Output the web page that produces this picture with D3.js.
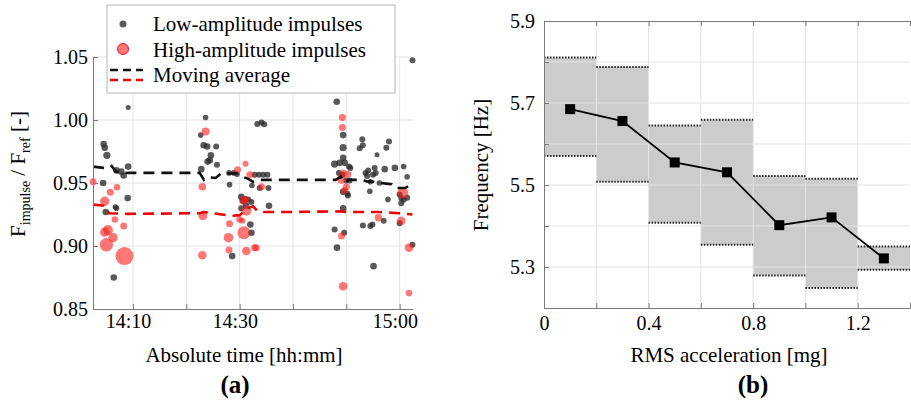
<!DOCTYPE html>
<html>
<head>
<meta charset="utf-8">
<script src="https://cdn.jsdelivr.net/npm/d3@7"></script>
<style>
body { margin: 0; background: #fff; }
svg text { font-family: "Liberation Serif", "Times New Roman", "DejaVu Serif", serif; fill: #000; }
</style>
</head>
<body>
<div id="chart"></div>
<script>
// ---- panel (a): time in minutes after 14:00, ratio F_impulse / F_ref, marker radius
var lowTime  = [4.5, 4.7, 5.1, 4.4, 4.9, 6.7, 6.9, 6.9, 7.8, 8.25, 9.1, 9.0, 6.4, 9.1,
  22.7, 23.6, 23.25, 23.9, 25.6, 24.6, 24.4, 24.0, 25.75, 22.8, 28.1, 28.0, 28.9, 29.5, 28.6,
  30.3, 30.6, 31.0, 31.6, 32.2, 31.2, 30.3, 32.0, 32.2, 32.8, 33.6, 34.4, 35.2, 33.75, 35.4, 35.5,
  33.3, 34.1, 34.6, 32.3,
  48.2, 49.4, 49.4, 49.4, 47.8, 48.75, 49.7, 50.5, 50.75, 48.6, 49.25, 49.4, 50.3, 49.4, 49.6,
  47.8, 48.25, 50.0, 50.6, 50.2,
  53.0, 53.1, 52.5, 58.0, 57.5, 55.75, 53.6, 54.1, 53.9, 55.3, 55.5, 55.0, 57.2, 59.1, 60.75,
  61.4, 54.4, 57.8, 53.1, 54.9, 54.5, 57.0, 55.1, 60.0, 60.3, 60.75, 60.3, 61.4, 60.0, 62.4,
  62.4, 54.5, 56.2];
var lowRatio = [0.981, 0.978, 0.972, 0.950, 0.927, 0.931, 0.930, 0.960, 0.959, 0.956, 0.963, 0.938, 0.875, 1.010,
  0.988, 1.002, 0.980, 0.979, 0.979, 0.972, 0.968, 0.967, 0.9645, 0.961, 0.9487, 0.958, 0.958, 0.957, 0.892,
  0.939, 0.936, 0.937, 0.937, 0.935, 0.932, 0.930, 0.917, 0.9105, 0.9566, 0.9566, 0.9566, 0.9566, 0.946, 0.946, 0.932,
  0.9968, 0.998, 0.9966, 0.948,
  1.0145, 0.988, 0.978, 0.970, 0.965, 0.966, 0.966, 0.963, 0.962, 0.958, 0.9565, 0.943, 0.940, 0.930, 0.9105,
  0.913, 0.8987, 0.952, 0.952, 0.9415,
  0.9847, 0.980, 0.9776, 0.983, 0.978, 0.9724, 0.958, 0.960, 0.9555, 0.962, 0.958, 0.9566, 0.961, 0.962, 0.963,
  0.955, 0.9434, 0.937, 0.9163, 0.917, 0.9158, 0.920, 0.884, 0.9408, 0.938, 0.9368, 0.934, 0.9382, 0.918, 0.901,
  1.0474, 0.951, 0.950];
var lowSize  = [3, 3, 3.3, 3, 3, 2.5, 2.5, 3, 3, 3, 3, 3, 3, 2.2,
  2.5, 2.5, 3, 3, 2.7, 3, 3, 3, 2.7, 3, 2.5, 2.5, 2.5, 2.5, 3,
  3, 3, 3, 2.7, 2.7, 3, 2.7, 3, 3, 2.7, 2.7, 2.7, 2.7, 2.7, 2.7, 3,
  2.7, 2.7, 2.7, 2.5,
  3, 3, 3.3, 3, 3.3, 3, 3, 2.7, 2.7, 2.7, 2.7, 3, 2.7, 3, 2.7,
  2.7, 3, 2.7, 2.7, 2.7,
  2.7, 2.7, 2.7, 2.7, 2.7, 2.2, 2.7, 2.7, 2.7, 2.7, 2.7, 2.7, 3, 3, 2.5,
  2.5, 2.5, 2.5, 2.7, 2.7, 2.7, 2.7, 3, 2.7, 2.7, 2.7, 2.7, 2.7, 2.7, 2.7,
  2.7, 2.5, 2.5];

var highTime  = [2.5, 5.75, 7.0, 4.7, 6.6, 8.25, 5.3, 4.7, 6.25, 5.0, 8.4,
  23.6, 23.0, 23.1, 23.0, 28.1, 27.9, 28.0, 29.6, 31.1, 30.0, 30.8, 31.1, 31.25, 30.8, 31.25,
  32.8, 33.1, 34.1, 31.9, 30.5,
  49.25, 49.25, 49.1, 49.4, 50.3, 50.0, 49.7, 49.1, 49.4,
  56.0, 60.6, 60.3, 61.75, 61.75];
var highRatio = [0.951, 0.9426, 0.9466, 0.9355, 0.921, 0.9158, 0.9126, 0.911, 0.9066, 0.901, 0.892,
  0.9908, 0.947, 0.924, 0.8926, 0.9176, 0.9066, 0.8968, 0.9605, 0.9653, 0.921, 0.936, 0.937, 0.928, 0.9105, 0.896,
  0.8987, 0.8987, 0.947, 0.9566, 0.920,
  1.002, 0.994, 0.953, 0.958, 0.957, 0.947, 0.944, 0.908, 0.868,
  0.9224, 0.942, 0.920, 0.8987, 0.8626];
var highSize  = [3.5, 3.5, 3.3, 4.7, 3.3, 3.5, 5, 4.7, 4.7, 6.7, 9,
  4, 3.8, 4.5, 4.3, 3.5, 4.8, 3.5, 3.5, 3, 3.3, 4.3, 3.5, 5, 6.5, 4.3,
  3.5, 3.5, 3.5, 3.5, 3,
  3.5, 3.5, 4.5, 3.5, 3.5, 3.5, 3.5, 3.5, 4.3,
  3.7, 5.5, 4.3, 4.3, 3.3];

var avgLowTime  = [2.5, 4.5, 5.5, 6.0, 6.8, 9, 22.5, 23.3, 24, 25.5, 26.5, 29.5, 30.5, 31.5, 32.5, 33.5,
  48, 49, 49.5, 50.5, 53, 54, 54.5, 55.5, 57.5, 58.5, 59.2, 61, 61.7, 62.3];
var avgLowRatio = [0.963, 0.962, 0.962, 0.9635, 0.959, 0.958, 0.958, 0.9525, 0.9545, 0.954, 0.9575, 0.9575, 0.955, 0.9535, 0.951, 0.9525,
  0.9525, 0.955, 0.9505, 0.9525, 0.9525, 0.951, 0.9515, 0.9505, 0.9495, 0.949, 0.946, 0.946, 0.9475, 0.949];
var avgHighTime  = [2.5, 4.5, 5.5, 9, 22.5, 23.2, 25, 28.5, 30, 31.5, 32.5, 33.5, 40, 49, 50, 56, 60, 62.4];
var avgHighRatio = [0.933, 0.932, 0.926, 0.9255, 0.926, 0.927, 0.926, 0.924, 0.9245, 0.93, 0.9315, 0.927, 0.927, 0.9275, 0.927, 0.927, 0.926, 0.925];

var timeTicks  = [10, 20, 30, 40, 50, 60];
var timeLabels = ["14:10", "", "14:30", "", "", "15:00"];
var ratioTicks = [0.85, 0.90, 0.95, 1.00, 1.05];

// ---- panel (b): frequency spread per RMS acceleration bin
var binStart  = [0, 0.2, 0.4, 0.6, 0.8, 1.0, 1.2];
var binEnd    = [0.2, 0.4, 0.6, 0.8, 1.0, 1.2, 1.4];
var binCenter = [0.1, 0.3, 0.5, 0.7, 0.9, 1.1, 1.3];
var freqUpper = [5.811, 5.788, 5.645, 5.659, 5.522, 5.515, 5.350];
var freqLower = [5.571, 5.508, 5.408, 5.354, 5.279, 5.249, 5.293];
var freqMean  = [5.685, 5.656, 5.555, 5.531, 5.402, 5.421, 5.321];

var accTicks   = [0, 0.2, 0.4, 0.6, 0.8, 1.0, 1.2, 1.4];
var accLabels  = ["0", "", "0.4", "", "0.8", "", "1.2", ""];
var freqTicks  = [5.2, 5.3, 5.4, 5.5, 5.6, 5.7, 5.8, 5.9];
var freqLabels = ["", "5.3", "", "5.5", "", "5.7", "", "5.9"];

var W = 911, H = 406;
var serif = "'Liberation Serif', 'Times New Roman', 'DejaVu Serif', serif";
var axisColor = "#7a7a7a";
var gridColor = "#e4e4e4";

var svg = d3.select("#chart")
  .append("svg")
  .attr("width", W)
  .attr("height", H)
  .attr("font-family", serif)
  .style("font-family", serif);

svg.append("rect")
  .attr("width", W)
  .attr("height", H)
  .attr("fill", "#fff");

function toDate(m) {
  return new Date(2000, 0, 1, 14, 0, 0, m * 60000);
}

function styleAxis(g) {
  g.attr("font-family", serif);
  g.select(".domain").attr("stroke", axisColor);
  g.selectAll(".tick line").attr("stroke", axisColor);
  g.selectAll(".tick text")
    .attr("font-size", 20)
    .attr("fill", "#000")
    .attr("font-family", serif)
    .style("font-family", serif);
}

// =================== panel (a) ===================
var a = {left: 93, right: 413, top: 57, bottom: 309};

var xa = d3.scaleTime()
  .domain([toDate(2.5), toDate(62.5)])
  .range([a.left, a.right]);
var ya = d3.scaleLinear()
  .domain([0.85, 1.05])
  .range([a.bottom, a.top]);

var pa = svg.append("g");

// grid
pa.append("g").selectAll("line")
  .data(timeTicks)
  .enter()
  .append("line")
  .attr("x1", d => xa(toDate(d))).attr("x2", d => xa(toDate(d)))
  .attr("y1", a.top).attr("y2", a.bottom)
  .attr("stroke", gridColor);
pa.append("g").selectAll("line")
  .data(ratioTicks.slice(1))
  .enter()
  .append("line")
  .attr("x1", a.left).attr("x2", a.right)
  .attr("y1", d => ya(d)).attr("y2", d => ya(d))
  .attr("stroke", gridColor);

// scatter
pa.append("g").selectAll("circle")
  .data(lowTime.map((t, i) => [t, lowRatio[i], lowSize[i]]))
  .enter()
  .append("circle")
  .attr("cx", d => xa(toDate(d[0])))
  .attr("cy", d => ya(d[1]))
  .attr("r", d => d[2] + 0.3)
  .attr("fill", "#2a2a2a")
  .attr("fill-opacity", 0.78);

pa.append("g").selectAll("circle")
  .data(highTime.map((t, i) => [t, highRatio[i], highSize[i]]))
  .enter()
  .append("circle")
  .attr("cx", d => xa(toDate(d[0])))
  .attr("cy", d => ya(d[1]))
  .attr("r", d => d[2])
  .attr("fill", "#ff1a1a")
  .attr("fill-opacity", 0.6);

// moving averages
var avgLine = d3.line()
  .x(d => xa(toDate(d[0])))
  .y(d => ya(d[1]));

pa.append("path")
  .attr("d", avgLine(avgLowTime.map((t, i) => [t, avgLowRatio[i]])))
  .attr("fill", "none")
  .attr("stroke", "#111")
  .attr("stroke-width", 2.6)
  .attr("stroke-dasharray", "11,7");
pa.append("path")
  .attr("d", avgLine(avgHighTime.map((t, i) => [t, avgHighRatio[i]])))
  .attr("fill", "none")
  .attr("stroke", "#ee0000")
  .attr("stroke-width", 2.6)
  .attr("stroke-dasharray", "11,7");

// axes
pa.append("g")
  .attr("transform", "translate(" + a.left + ",0)")
  .call(d3.axisLeft(ya).tickValues(ratioTicks).tickFormat(d3.format(".2f"))
    .tickSizeInner(-5).tickSizeOuter(0).tickPadding(5))
  .call(styleAxis);

pa.append("g")
  .attr("transform", "translate(0," + a.bottom + ")")
  .call(d3.axisBottom(xa).tickValues(timeTicks.map(toDate))
    .tickFormat((d, i) => timeLabels[i])
    .tickSizeInner(-5).tickSizeOuter(0).tickPadding(5))
  .call(styleAxis)
  .call(g => g.selectAll(".tick text").attr("dx", "-0.25em"));

// axis titles
var ylab = svg.append("text")
  .attr("transform", "translate(25,174) rotate(-90)")
  .attr("text-anchor", "middle")
  .attr("font-size", 21);
ylab.append("tspan").text("F");
ylab.append("tspan").attr("font-size", 14).attr("dy", 5).text("impulse");
ylab.append("tspan").attr("dy", -5).text(" / F");
ylab.append("tspan").attr("font-size", 14).attr("dy", 5).text("ref");
ylab.append("tspan").attr("dy", -5).text("  [-]");

svg.append("text")
  .attr("x", 244).attr("y", 362)
  .attr("text-anchor", "middle")
  .attr("font-size", 21)
  .text("Absolute time [hh:mm]");

svg.append("text")
  .attr("x", 235).attr("y", 393)
  .attr("text-anchor", "middle")
  .attr("font-size", 25)
  .attr("font-weight", "bold")
  .text("(a)");

// legend
var leg = svg.append("g");
leg.append("rect")
  .attr("x", 107).attr("y", 5)
  .attr("width", 288).attr("height", 88)
  .attr("fill", "#fff")
  .attr("stroke", "#b5b5b5");
leg.append("circle")
  .attr("cx", 123).attr("cy", 24).attr("r", 3.5)
  .attr("fill", "#2a2a2a").attr("fill-opacity", 0.78);
leg.append("circle")
  .attr("cx", 123).attr("cy", 49).attr("r", 5.5)
  .attr("fill", "#ff1a1a").attr("fill-opacity", 0.6)
  .attr("stroke", "#e02020");
leg.append("line")
  .attr("x1", 110).attr("x2", 143).attr("y1", 70).attr("y2", 70)
  .attr("stroke", "#111").attr("stroke-width", 2.6).attr("stroke-dasharray", "8,5");
leg.append("line")
  .attr("x1", 110).attr("x2", 143).attr("y1", 80).attr("y2", 80)
  .attr("stroke", "#ee0000").attr("stroke-width", 2.6).attr("stroke-dasharray", "8,5");
leg.selectAll("text.item")
  .data(["Low-amplitude impulses", "High-amplitude impulses", "Moving average"])
  .enter()
  .append("text")
  .attr("class", "item")
  .attr("x", 153)
  .attr("y", (d, i) => 31 + i * 25.5)
  .attr("font-size", 21)
  .text(d => d);

// =================== panel (b) ===================
var b = {left: 544, right: 910, top: 21, bottom: 308};

var xb = d3.scaleLinear()
  .domain([0, 1.4])
  .range([b.left, b.right]);
var yb = d3.scaleLinear()
  .domain([5.2, 5.9])
  .range([b.bottom, b.top]);

var pb = svg.append("g");

var bins = binStart.map((s, i) => ({
  x0: s, x1: binEnd[i], hi: freqUpper[i], lo: freqLower[i]
}));

pb.append("g").selectAll("rect")
  .data(bins)
  .enter()
  .append("rect")
  .attr("x", d => xb(d.x0))
  .attr("y", d => yb(d.hi))
  .attr("width", d => xb(d.x1) - xb(d.x0))
  .attr("height", d => yb(d.lo) - yb(d.hi))
  .attr("fill", "#cccccc");

// grid on top of the boxes
pb.append("g").selectAll("line")
  .data(accTicks.slice(1, -1))
  .enter()
  .append("line")
  .attr("x1", d => xb(d)).attr("x2", d => xb(d))
  .attr("y1", b.top).attr("y2", b.bottom)
  .attr("stroke", gridColor);
pb.append("g").selectAll("line")
  .data(freqTicks.slice(1, -1))
  .enter()
  .append("line")
  .attr("x1", b.left).attr("x2", b.right)
  .attr("y1", d => yb(d)).attr("y2", d => yb(d))
  .attr("stroke", gridColor);

// dotted bounds
["hi", "lo"].forEach(k => {
  pb.append("g").selectAll("line")
    .data(bins)
    .enter()
    .append("line")
    .attr("x1", d => xb(d.x0)).attr("x2", d => xb(d.x1))
    .attr("y1", d => yb(d[k])).attr("y2", d => yb(d[k]))
    .attr("stroke", "#222")
    .attr("stroke-width", 2)
    .attr("stroke-dasharray", "1.5,1.5");
});

// mean line
var meanData = binCenter.map((c, i) => [c, freqMean[i]]);
pb.append("path")
  .attr("d", d3.line().x(d => xb(d[0])).y(d => yb(d[1]))(meanData))
  .attr("fill", "none")
  .attr("stroke", "#000")
  .attr("stroke-width", 1.8);
pb.append("g").selectAll("rect")
  .data(meanData)
  .enter()
  .append("rect")
  .attr("x", d => xb(d[0]) - 5)
  .attr("y", d => yb(d[1]) - 5)
  .attr("width", 10)
  .attr("height", 10)
  .attr("fill", "#000");

// axes
pb.append("g")
  .attr("transform", "translate(" + b.left + ",0)")
  .call(d3.axisLeft(yb).tickValues(freqTicks).tickFormat((d, i) => freqLabels[i])
    .tickSizeInner(-5).tickSizeOuter(0).tickPadding(9))
  .call(styleAxis);

pb.append("g")
  .attr("transform", "translate(0," + b.bottom + ")")
  .call(d3.axisBottom(xb).tickValues(accTicks).tickFormat((d, i) => accLabels[i])
    .tickSizeInner(-5).tickSizeOuter(0).tickPadding(8))
  .call(styleAxis);

pb.append("g")
  .attr("transform", "translate(0," + b.top + ")")
  .call(d3.axisTop(xb).tickValues(accTicks).tickFormat("")
    .tickSizeInner(-5).tickSizeOuter(0))
  .call(styleAxis);

svg.append("text")
  .attr("transform", "translate(488,165) rotate(-90)")
  .attr("text-anchor", "middle")
  .attr("font-size", 21)
  .text("Frequency [Hz]");

svg.append("text")
  .attr("x", 729).attr("y", 362)
  .attr("text-anchor", "middle")
  .attr("font-size", 21)
  .text("RMS acceleration [mg]");

svg.append("text")
  .attr("x", 753).attr("y", 393)
  .attr("text-anchor", "middle")
  .attr("font-size", 25)
  .attr("font-weight", "bold")
  .text("(b)");
</script>
</body>
</html>
